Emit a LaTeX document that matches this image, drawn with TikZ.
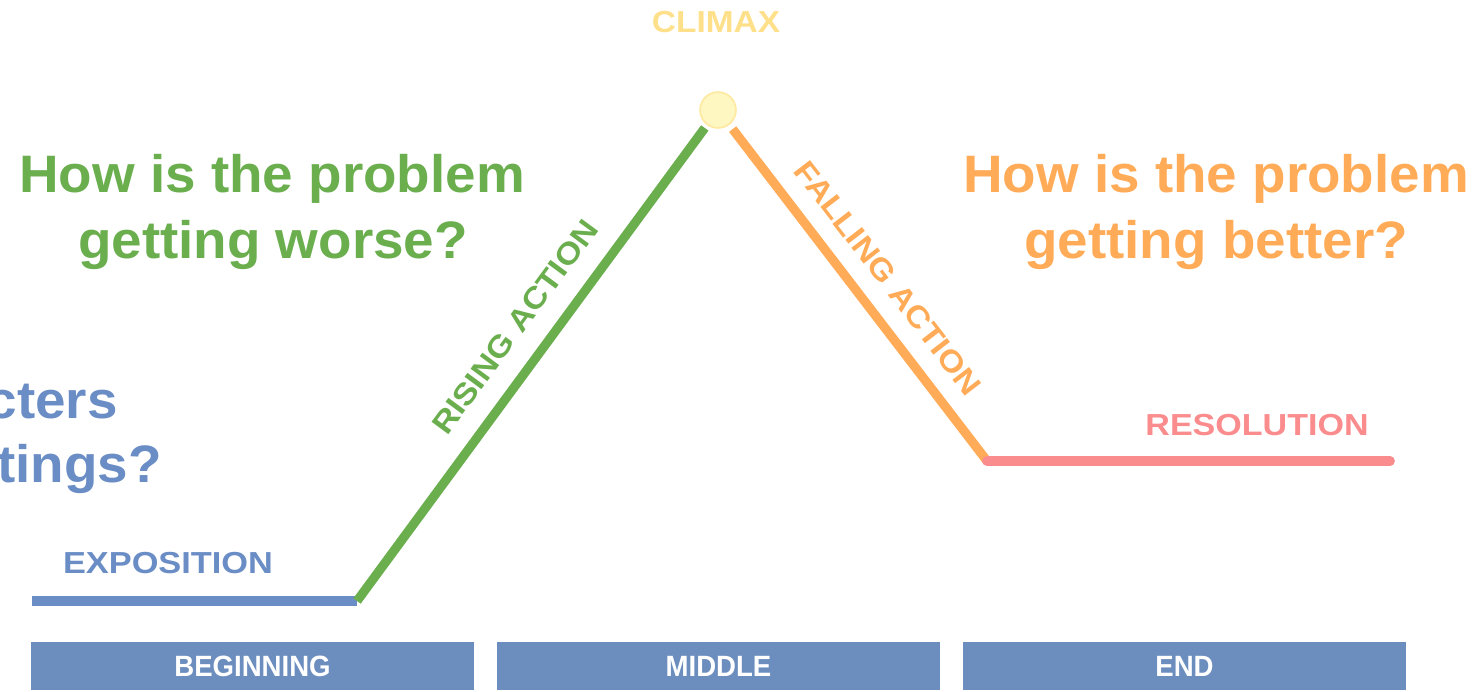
\documentclass[tikz,border=0pt]{standalone}
\usepackage{fontspec}
\setmainfont{Liberation Sans}
\definecolor{expoblue}{HTML}{6A8DC5}
\definecolor{barblue}{HTML}{6C8EBF}
\definecolor{risegreen}{HTML}{6AAE4E}
\definecolor{fallorange}{HTML}{FFAB57}
\definecolor{resopink}{HTML}{FA8C8E}
\definecolor{climaxtext}{HTML}{FFE08A}
\definecolor{climaxfill}{HTML}{FFF7C2}
\definecolor{climaxrim}{HTML}{FDE9A2}
% horizontal stretch of a piece of text
\newcommand{\stretchtext}[2]{\scalebox{#1}[1]{#2}}
\begin{document}
\begin{tikzpicture}[x=0.02cm,y=-0.02cm,
  question/.style={font=\fontsize{30}{36}\selectfont\bfseries, inner sep=0pt, anchor=base},
  stage/.style={font=\fontsize{17.3}{20}\selectfont\bfseries, inner sep=0pt},
  arc/.style={line width=5.6pt},
  bar/.style={fill=barblue, draw=none, minimum width=252.3pt, minimum height=27.2pt,
    inner sep=0pt, text=white, font=\fontsize{16.7}{20}\selectfont\bfseries},
]
\useasboundingbox (0,0) rectangle (1479,692);
\clip (0,0) rectangle (1479,692);

% plot points
\coordinate (expoStart) at (32,601);
\coordinate (expoEnd) at (357,601);
\coordinate (resoStart) at (987,461);
\coordinate (resoEnd) at (1390,461);
\node[circle, minimum size=20.4pt, inner sep=0pt, fill=climaxfill, draw=climaxrim, line width=1pt] (peak) at (718,110) {};

% the story arc
\draw[arc, draw=expoblue] (expoStart) -- (expoEnd);
\draw[arc, line width=5.2pt, draw=risegreen, shorten >=2pt] (expoEnd) -- (peak);
\draw[arc, line width=5.2pt, draw=fallorange, shorten <=3pt] (peak) -- (resoStart);
\draw[arc, draw=resopink, line cap=round] (resoStart) -- (resoEnd);

% stage labels
\node[stage, text=climaxtext, anchor=base] (climaxlbl) at (716,33) {\stretchtext{1.1}{CLIMAX}};
\node[stage, text=expoblue, anchor=base] (expolbl) at (168,573) {\stretchtext{1.13}{EXPOSITION}};
\node[stage, text=resopink, anchor=base] (resolbl) at (1257,435) {\stretchtext{1.12}{RESOLUTION}};
\node[stage, text=risegreen, rotate=53.6] (riselbl) at (515,327) {\stretchtext{1.12}{RISING ACTION}};
\node[stage, text=fallorange, rotate=-52.4] (falllbl) at (888,278) {\stretchtext{1.12}{FALLING ACTION}};

% guiding questions
\node[question, text=risegreen] (worse1) at (272,193) {\stretchtext{1.04}{How is the problem}};
\node[question, text=risegreen] (worse2) at (273,258) {\stretchtext{1.04}{getting worse?}};
\node[question, text=fallorange] (better1) at (1216,193) {\stretchtext{1.04}{How is the problem}};
\node[question, text=fallorange] (better2) at (1216,258) {\stretchtext{1.04}{getting better?}};
\node[question, text=expoblue, anchor=base east] (who1) at (118,418) {\stretchtext{1.04}{cters}};
\node[question, text=expoblue, anchor=base east] (who2) at (162,482) {\stretchtext{1.04}{tings?}};

% parts of the story
\node[bar] (beginning) at (252.5,666) {\stretchtext{0.94}{BEGINNING}};
\node[bar] (middle) at (718.5,666) {\stretchtext{0.94}{MIDDLE}};
\node[bar] (ending) at (1184.5,666) {\stretchtext{0.94}{END}};
\end{tikzpicture}
\end{document}
